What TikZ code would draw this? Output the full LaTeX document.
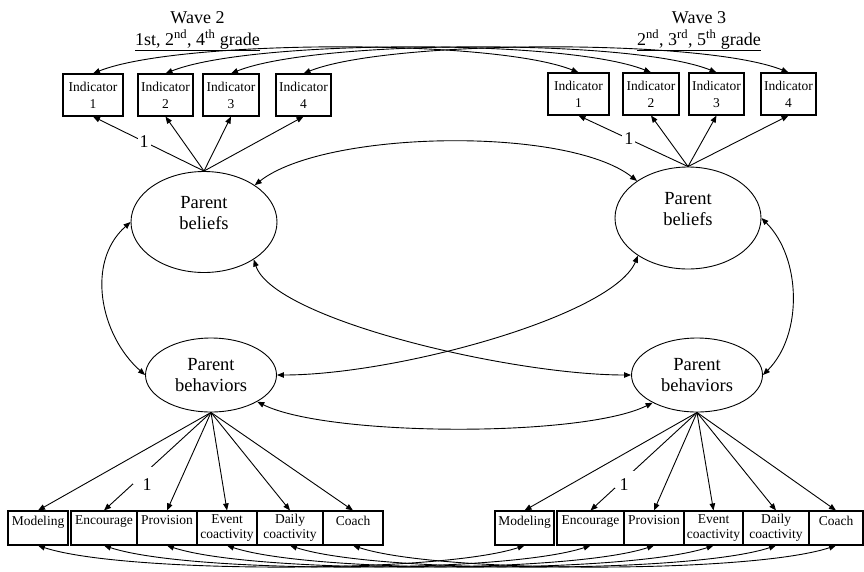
\documentclass[tikz,border=0pt]{standalone}
\usepackage{fontspec}
\setmainfont{Liberation Serif}
\usetikzlibrary{shapes.geometric,arrows.meta}

\tikzset{every picture/.style={line width=0.9pt}}
\tikzset{
  indbox/.style={draw, rectangle, line width=1.1pt, minimum height=42pt, inner sep=0.75pt, align=center, font=\fontsize{13.5pt}{17pt}\selectfont},
  obsbox/.style={draw, rectangle, line width=1.1pt, minimum height=34pt, inner sep=0.75pt, align=center, font=\fontsize{13.5pt}{15pt}\selectfont},
  latent/.style={draw, ellipse, inner sep=0pt, align=center, font=\fontsize{18.5pt}{21pt}\selectfont},
  load/.style={-{Triangle[length=7pt,width=5.5pt]}},
  cov/.style={{Triangle[length=7pt,width=5.5pt]}-{Triangle[length=7pt,width=5.5pt]}},
  fixone/.style={fill=white, inner sep=2pt, font=\fontsize{18pt}{18pt}\selectfont},
  gapbox/.style={fill=white, inner sep=0pt, minimum width=20pt, minimum height=17pt},
  wavetxt/.style={align=center, inner sep=0.75pt, anchor=north, font=\fontsize{18pt}{22pt}\selectfont}
}

\begin{document}
\begin{tikzpicture}[x=1pt,y=1pt,yscale=-1,xscale=1]
\useasboundingbox (0,0) rectangle (864,571);

% Text Node: wave headers
\node[wavetxt] (wave2) at (197.5,10) {Wave 2\\\underline{1st, 2\textsuperscript{nd}, 4\textsuperscript{th} grade}};
\node[wavetxt] (wave3) at (699,10) {Wave 3\\\underline{2\textsuperscript{nd}, 3\textsuperscript{rd}, 5\textsuperscript{th} grade}};

% Indicators, wave 2
\node[indbox, minimum width=60pt] (wa1) at (93,95) {Indicator\\1};
\node[indbox, minimum width=55pt] (wa2) at (165.5,95) {Indicator\\2};
\node[indbox, minimum width=56pt] (wa3) at (231,95) {Indicator\\3};
\node[indbox, minimum width=55pt] (wa4) at (303.5,95) {Indicator\\4};
% Indicators, wave 3
\node[indbox, minimum width=61pt] (wb1) at (578.5,94) {Indicator\\1};
\node[indbox, minimum width=56pt] (wb2) at (651,94) {Indicator\\2};
\node[indbox, minimum width=55pt] (wb3) at (716.5,94) {Indicator\\3};
\node[indbox, minimum width=55pt] (wb4) at (788.5,94) {Indicator\\4};

% Latent variables
\node[latent, minimum width=146pt, minimum height=101pt] (lb) at (204,222) {Parent\\beliefs\\[-3pt]~};
\node[latent, minimum width=146pt, minimum height=102pt] (rb) at (688,218) {Parent\\beliefs\\[-3pt]~};
\node[latent, minimum width=131pt, minimum height=74pt] (lbh) at (211,375) {Parent\\behaviors};
\node[latent, minimum width=131pt, minimum height=74pt] (rbh) at (697,375) {Parent\\behaviors};

% Behavior indicators, wave 2
\node[obsbox, minimum width=60pt] (ma1) at (38,528) {Modeling\\~};
\node[obsbox, minimum width=66pt] (ma2) at (104,528) {Encourage\\~};
\node[obsbox, minimum width=60pt] (ma3) at (167,528) {Provision\\~};
\node[obsbox, minimum width=60pt] (ma4) at (227,528) {Event\\coactivity};
\node[obsbox, minimum width=66pt] (ma5) at (290,528) {Daily\\coactivity};
\node[obsbox, minimum width=60pt] (ma6) at (353,528) {Coach\\~};
% Behavior indicators, wave 3
\node[obsbox, minimum width=59pt] (mb1) at (524.5,528) {Modeling\\~};
\node[obsbox, minimum width=67pt] (mb2) at (590.5,528) {Encourage\\~};
\node[obsbox, minimum width=60pt] (mb3) at (654,528) {Provision\\~};
\node[obsbox, minimum width=59pt] (mb4) at (713.5,528) {Event\\coactivity};
\node[obsbox, minimum width=66pt] (mb5) at (776,528) {Daily\\coactivity};
\node[obsbox, minimum width=54pt] (mb6) at (836,528) {Coach\\~};

% Loadings, beliefs
\draw[load] (lb.north) -- node[pos=0.54, fixone] (onea) {1} (wa1.south);
\draw[load] (rb.north) -- node[pos=0.54, fixone] (oneb) {1} (wb1.south);
\foreach \i in {2,3,4} {
  \draw[load] (lb.north) -- (wa\i.south);
  \draw[load] (rb.north) -- (wb\i.south);
}

% Loadings, behaviors
\draw[load] (lbh.south) -- node[pos=0.64, gapbox] (gapc) {} (ma2.north);
\draw[load] (rbh.south) -- node[pos=0.68, gapbox] (gapd) {} (mb2.north);
\node[fixone, fill=none] (onec) at (147,485) {1};
\node[fixone, fill=none] (oned) at (624,485) {1};
\foreach \i in {1,3,4,5,6} {
  \draw[load] (lbh.south) -- (ma\i.north);
  \draw[load] (rbh.south) -- (mb\i.north);
}

% Residual covariances over time
\foreach \i in {1,...,4}
  \draw[cov] (wa\i.north) .. controls +(85,-34) and +(-85,-34) .. (wb\i.north);
\foreach \i in {1,...,6}
  \draw[cov] (ma\i.south) .. controls +(85,28) and +(-85,28) .. (mb\i.south);

% Latent covariances
\draw[cov] (lb.36) .. controls +(70,-55) and +(-70,-55) .. (rb.144);
\draw[cov] (lb.west) .. controls +(-45,40) and +(-45,-40) .. (lbh.west);
\draw[cov] (rb.east) .. controls +(40,40) and +(40,-40) .. (rbh.east);
\draw[cov] (lb.-37) .. controls +(20,60) and +(-120,0) .. (rbh.west);
\draw[cov] (lbh.east) .. controls +(120,0) and +(-25,60) .. (rb.-143);
\draw[cov] (lbh.-30) .. controls +(70,35) and +(-70,35) .. (rbh.212);

\end{tikzpicture}
\end{document}
